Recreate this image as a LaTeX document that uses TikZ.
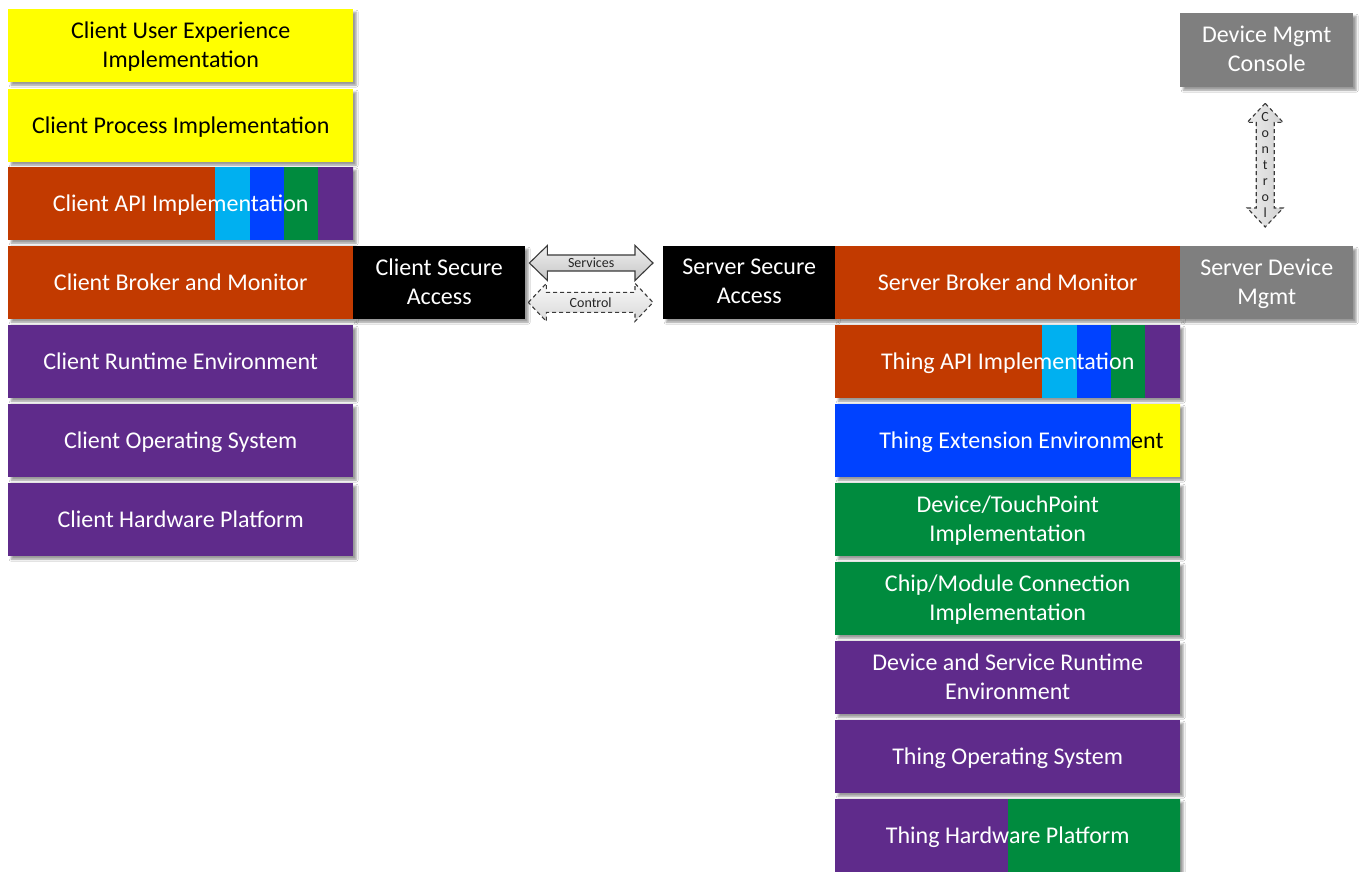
\documentclass[tikz,border=0pt]{standalone}
\usepackage{fontspec}
\setmainfont{Carlito}
\usetikzlibrary{calc,shadows.blur}

\definecolor{cyel}{HTML}{FFFF00}
\definecolor{corg}{HTML}{C23A00}
\definecolor{clbl}{HTML}{00B0F0}
\definecolor{cblu}{HTML}{0042FF}
\definecolor{cgrn}{HTML}{008B3E}
\definecolor{cpur}{HTML}{5F2B8B}
\definecolor{cgry}{HTML}{7F7F7F}
\definecolor{cout}{HTML}{3A3A3A}

% vertical band inside a block, offsets measured from its left edge
\newcommand\bandfill[3]{\fill[#1] ([xshift=#2pt]path picture bounding box.north west) rectangle ([xshift=#3pt]path picture bounding box.south west);}

% horizontal block double arrow: style, left tip, right tip, half shaft, half head, head length
\newcommand\harrowshape[6]{\draw[#1] let \p1=(#2), \p2=(#3) in
  (\x1,\y1) -- (\x1+#6,\y1+#5) -- (\x1+#6,\y1+#4) -- (\x2-#6,\y1+#4) -- (\x2-#6,\y1+#5) -- (\x2,\y1)
  -- (\x2-#6,\y1-#5) -- (\x2-#6,\y1-#4) -- (\x1+#6,\y1-#4) -- (\x1+#6,\y1-#5) -- cycle;}
% vertical block double arrow: style, top tip, bottom tip, half shaft, half head, head length
\newcommand\varrowshape[6]{\draw[#1] let \p1=(#2), \p2=(#3) in
  (\x1,\y1) -- (\x1+#5,\y1-#6) -- (\x1+#4,\y1-#6) -- (\x1+#4,\y2+#6) -- (\x1+#5,\y2+#6) -- (\x1,\y2)
  -- (\x1-#5,\y2+#6) -- (\x1-#4,\y2+#6) -- (\x1-#4,\y1-#6) -- (\x1-#5,\y1-#6) -- cycle;}

\tikzset{
  blk/.style={anchor=north west, minimum width=345pt, minimum height=73pt, inner sep=2pt,
    align=center, text=white, font=\fontsize{24}{29}\selectfont, text depth=2pt,
    blur shadow={shadow xshift=3pt, shadow yshift=-3pt, shadow blur radius=2pt, shadow opacity=40}},
  half/.style={minimum width=172pt},
  ylw/.style={fill=cyel, text=black},
  apibands/.style={path picture={\bandfill{clbl}{207}{242}\bandfill{cblu}{242}{276}\bandfill{cgrn}{276}{310}\bandfill{cpur}{310}{346}}},
  svc/.style={draw=cout, line width=1.1pt, line join=miter, top color=gray!12, bottom color=gray!45},
  ctl/.style={draw=cout, line width=1.1pt, dash pattern=on 4pt off 3pt, top color=gray!5, bottom color=gray!30},
  vctl/.style={draw=cout, line width=1.1pt, dash pattern=on 4pt off 3pt, left color=gray!15, right color=gray!35},
  lbl/.style={font=\fontsize{14}{16}\selectfont, text=black!85, inner sep=0pt},
}

\begin{document}
\begin{tikzpicture}[x=1pt, y=-1pt]
  \useasboundingbox[fill=white] (0,0) rectangle (1359,872);

  % client stack
  \node[blk, ylw] (cux) at (8,9) {Client User Experience\\Implementation};
  \node[blk, ylw] (cpi) at (8,89) {Client Process Implementation};
  \node[blk, fill=corg, apibands] (capi) at (8,167) {Client API Implementation};
  \node[blk, fill=corg] (cbm) at (8,246) {Client Broker and Monitor};
  \node[blk, half, fill=black] (csa) at (353,246) {Client Secure\\Access};
  \node[blk, fill=cpur] (crt) at (8,325) {Client Runtime Environment};
  \node[blk, fill=cpur] (cos) at (8,404) {Client Operating System};
  \node[blk, fill=cpur] (chw) at (8,483) {Client Hardware Platform};

  % server and thing stack
  \node[blk, half, fill=black] (ssa) at (663,246) {Server Secure\\Access};
  \node[blk, fill=corg] (sbm) at (835,246) {Server Broker and Monitor};
  \node[blk, minimum width=173pt, fill=cgry] (sdm) at (1180,246) {Server Device\\Mgmt};
  \node[blk, minimum width=173pt, minimum height=74pt, fill=cgry] (dmc) at (1180,13) {Device Mgmt\\Console};
  \node[blk, fill=corg, apibands] (tapi) at (835,325) {Thing API Implementation};
  % the white/black colour change falls on the blue/yellow boundary
  \node[blk, fill=cblu, path picture={\bandfill{cyel}{296}{346}}] (tenv) at (835,404)
    {\hspace*{247pt}\llap{Thing Extension Environm}\rlap{\textcolor{black}{ent}}};
  \node[blk, fill=cgrn] (dtp) at (835,483) {Device/TouchPoint\\Implementation};
  \node[blk, fill=cgrn] (cmc) at (835,562) {Chip/Module Connection\\Implementation};
  \node[blk, fill=cpur] (dsr) at (835,641) {Device and Service Runtime\\Environment};
  \node[blk, fill=cpur] (tos) at (835,720) {Thing Operating System};
  \node[blk, fill=cpur, path picture={\bandfill{cgrn}{173}{346}}] (thw) at (835,799) {Thing Hardware Platform};

  % services / control links between the secure access blocks
  \coordinate (sL) at ([xshift=4pt, yshift=-17pt]csa.north east);
  \coordinate (sR) at ([xshift=-10pt, yshift=-17pt]ssa.north west);
  \coordinate (cL) at ([xshift=3pt, yshift=17pt]csa.south east);
  \coordinate (cR) at ([xshift=-10pt, yshift=17pt]ssa.south west);
  \harrowshape{svc}{sL}{sR}{8pt}{17.5pt}{18pt}
  \harrowshape{ctl}{cL}{cR}{10pt}{19pt}{18pt}
  \node[lbl] (svclbl) at ($(sL)!0.5!(sR)$) {Services};
  \node[lbl] (ctllbl) at ($(cL)!0.5!(cR)$) {Control};

  % control link between the device management blocks
  \coordinate (vT) at ([xshift=-1.5pt, yshift=-16pt]dmc.south);
  \coordinate (vB) at ([xshift=-1.5pt, yshift=19pt]sdm.north);
  \varrowshape{vctl}{vT}{vB}{9pt}{18pt}{19pt}
  \node[lbl, align=center, font=\fontsize{14}{16}\selectfont] (vctllbl) at ($(vT)!0.5!(vB)$) {C\\o\\n\\t\\r\\o\\l};
\end{tikzpicture}
\end{document}
